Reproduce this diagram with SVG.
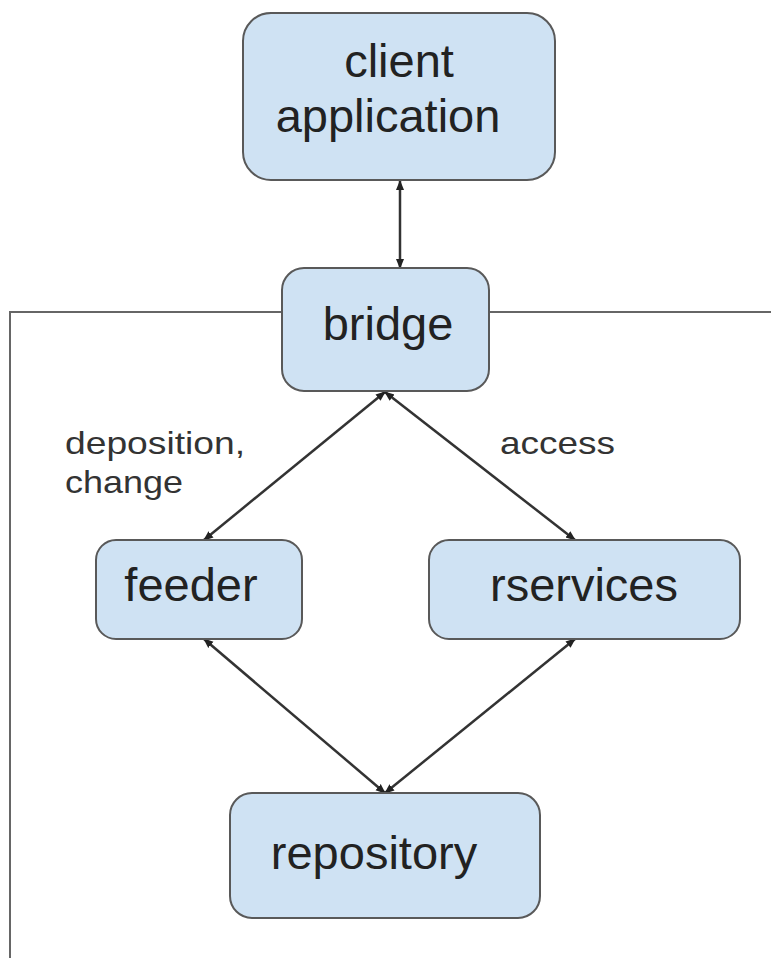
<svg xmlns="http://www.w3.org/2000/svg" width="771" height="958" viewBox="0 0 771 958">
<style>
.node rect{fill:#cfe2f3;stroke:#595959;stroke-width:2}
.node text{font-family:"Liberation Sans",Arial,sans-serif;font-size:47px;fill:#222;text-anchor:middle}
.lbl{font-family:"Liberation Sans",Arial,sans-serif;font-size:32px;fill:#333}
.conn line{stroke:#333;stroke-width:2.5;marker-start:url(#ah);marker-end:url(#ah)}
.frame{fill:none;stroke:#666;stroke-width:2}
</style>
<defs>
<marker id="ah" viewBox="0 0 10 10" refX="9" refY="5" markerWidth="4" markerHeight="4" orient="auto-start-reverse" markerUnits="strokeWidth">
<path d="M0,1 L10,5 L0,9 z" fill="#222"/>
</marker>
</defs>
<rect width="771" height="958" fill="#fff"/>
<path class="frame" d="M10,958 V312 H282 M489,312 H771"/>
<g class="conn">
<line x1="400" y1="181" x2="400" y2="268"/>
<line x1="385" y1="392" x2="204" y2="540"/>
<line x1="385" y1="392" x2="575" y2="540"/>
<line x1="204" y1="639" x2="385" y2="793"/>
<line x1="575" y1="639" x2="385" y2="793"/>
</g>
<g id="client" class="node"><rect x="243" y="13" width="312" height="167" rx="28"/><text x="399" y="77">client</text><text x="388" y="132">application</text></g>
<g id="bridge" class="node"><rect x="282" y="268" width="207" height="123" rx="22"/><text x="388" y="340">bridge</text></g>
<g id="feeder" class="node"><rect x="96" y="540" width="206" height="99" rx="20"/><text x="191" y="601">feeder</text></g>
<g id="rservices" class="node"><rect x="429" y="540" width="311" height="99" rx="20"/><text x="584" y="601">rservices</text></g>
<g id="repository" class="node"><rect x="230" y="793" width="310" height="125" rx="22"/><text x="374" y="869">repository</text></g>
<text class="lbl" x="65" y="454" textLength="180" lengthAdjust="spacingAndGlyphs">deposition,</text>
<text class="lbl" x="65" y="493" textLength="118" lengthAdjust="spacingAndGlyphs">change</text>
<text class="lbl" x="500" y="454" textLength="115" lengthAdjust="spacingAndGlyphs">access</text>
</svg>
